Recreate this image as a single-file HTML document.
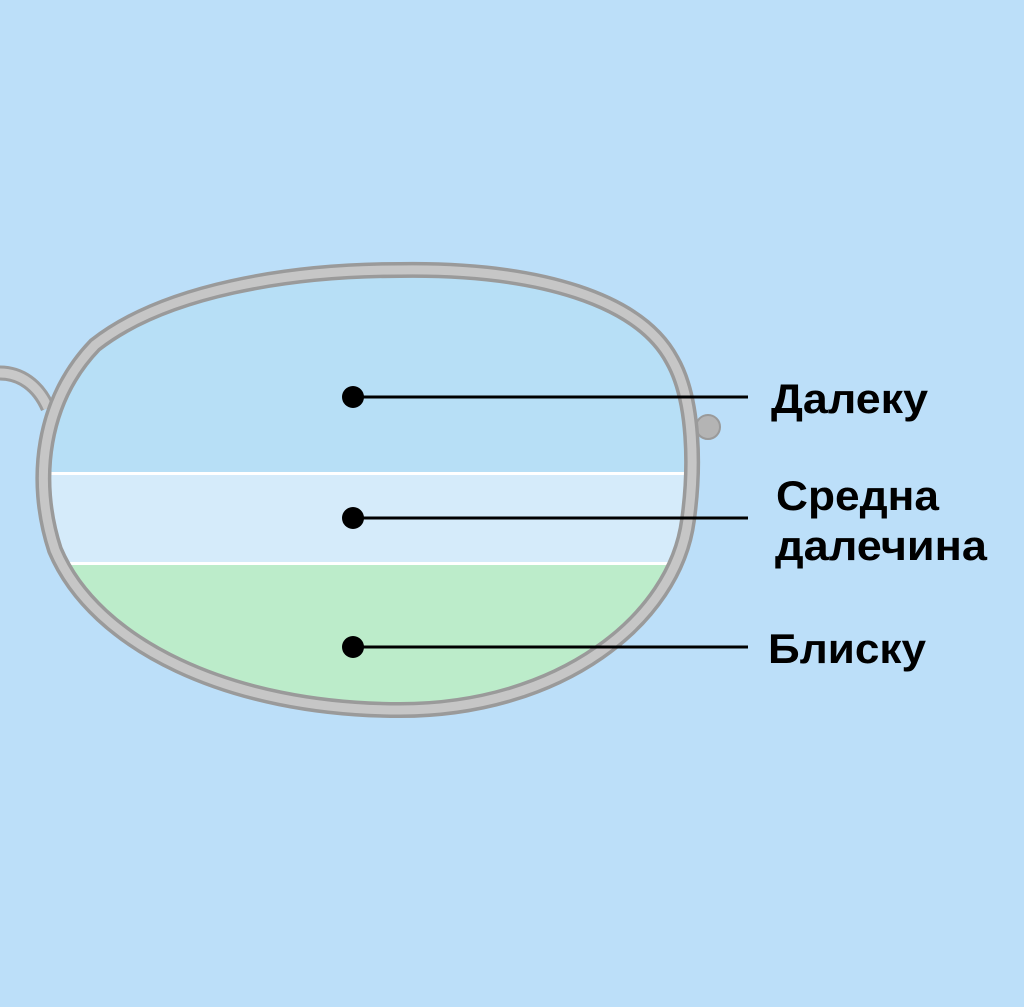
<!DOCTYPE html>
<html><head><meta charset="utf-8"><style>html,body{margin:0;padding:0;background:#bcdff9;}svg{display:block}</style></head>
<body>
<svg width="1024" height="1007" viewBox="0 0 1024 1007" xmlns="http://www.w3.org/2000/svg">
<defs>
<clipPath id="lens"><path d="M400 270 C540 268 640 300 672 360 C695 400 695 470 688 520 C675 620 560 710 400 710 C230 710 95 645 55 550 C32 480 42 400 95 345 C165 290 290 270 400 270 Z"/></clipPath>
</defs>
<rect width="1024" height="1007" fill="#bcdff9"/>
<g clip-path="url(#lens)">
<rect x="0" y="250" width="720" height="222" fill="#b7dff6"/>
<rect x="0" y="472" width="720" height="3" fill="#ffffff"/>
<rect x="0" y="475" width="720" height="87" fill="#d5ebfa"/>
<rect x="0" y="562" width="720" height="3" fill="#ffffff"/>
<rect x="0" y="565" width="720" height="160" fill="#bcecca"/>
</g>
<path d="M0 373 C20 373 38 385 48 408" fill="none" stroke="#9c9c9c" stroke-width="15"/>
<path d="M0 373 C20 373 38 385 48 408" fill="none" stroke="#c8c8c8" stroke-width="9"/>
<circle cx="708" cy="427" r="12" fill="#b4b4b4" stroke="#9a9a9a" stroke-width="2"/>
<path d="M400 270 C540 268 640 300 672 360 C695 400 695 470 688 520 C675 620 560 710 400 710 C230 710 95 645 55 550 C32 480 42 400 95 345 C165 290 290 270 400 270 Z" fill="none" stroke="#9a9a9a" stroke-width="16"/>
<path d="M400 270 C540 268 640 300 672 360 C695 400 695 470 688 520 C675 620 560 710 400 710 C230 710 95 645 55 550 C32 480 42 400 95 345 C165 290 290 270 400 270 Z" fill="none" stroke="#c6c6c6" stroke-width="9"/>
<g stroke="#000" stroke-width="3">
<line x1="352" y1="397" x2="748" y2="397"/>
<line x1="352" y1="518" x2="748" y2="518"/>
<line x1="352" y1="647" x2="748" y2="647"/>
</g>
<g fill="#000">
<circle cx="353" cy="397" r="11"/>
<circle cx="353" cy="518" r="11"/>
<circle cx="353" cy="647" r="11"/>
</g>
<g font-family="Liberation Sans, DejaVu Sans, sans-serif" font-weight="bold" font-size="42" fill="#000">
<text x="771" y="413" textLength="157" lengthAdjust="spacingAndGlyphs">Далеку</text>
<text x="776" y="510" textLength="163" lengthAdjust="spacingAndGlyphs">Средна</text>
<text x="775" y="560" textLength="212" lengthAdjust="spacingAndGlyphs">далечина</text>
<text x="768" y="663" textLength="158" lengthAdjust="spacingAndGlyphs">Блиску</text>
</g>
</svg>
</body></html>
